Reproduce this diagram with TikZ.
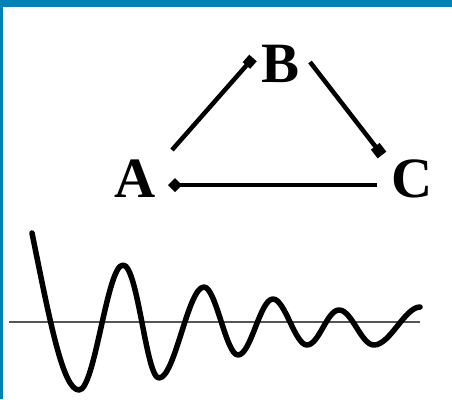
\documentclass[tikz,border=0pt]{standalone}
\usepackage{fontspec}
\setmainfont{Liberation Serif}
\usetikzlibrary{arrows.meta}
\definecolor{frameblue}{RGB}{0,131,180}
\definecolor{axisgray}{RGB}{85,85,85}
\begin{document}
\begin{tikzpicture}[x=1pt,y=-1pt,
  lbl/.style={inner sep=0pt, anchor=base, font=\fontsize{57}{60}\selectfont\bfseries},
  link/.style={line width=4.5pt},
  wave/.style={line width=5.5pt, line cap=round, line join=round},
  axisline/.style={line width=2.5pt, draw=axisgray}]
\useasboundingbox (0,0) rectangle (452,399);
\fill[white] (0,0) rectangle (452,399);
\fill[frameblue] (0,0) rectangle (452,7);
\fill[frameblue] (0,0) rectangle (3,399);
\node[lbl] (A) at (135,197) {A};
\node[lbl] (B) at (281,82) {B};
\node[lbl] (C) at (412,197) {C};
\draw[link, -{Square[length=10pt,width=10pt]}] ([shift={(37,-47)}]A.base) -- ([shift={(-28,-24)}]B.base);
\draw[link, -{Square[length=11pt,width=11pt]}] ([shift={(29,-20)}]B.base) -- ([shift={(-30,-42)}]C.base);
\draw[link, -{Diamond[length=14pt,width=14pt]}] ([shift={(-35,-12)}]C.base) -- ([shift={(33,-12)}]A.base);
\draw[axisline] (9,322) -- (420,322);
\draw[wave] (32,233) .. controls (50,322) and (63,390) .. (79,390)
  .. controls (95,390) and (107,265) .. (123,265)
  .. controls (138,265) and (146,378) .. (159,378)
  .. controls (175,378) and (188,287) .. (204,287)
  .. controls (216,287) and (226,355) .. (238,355)
  .. controls (251,355) and (260,299) .. (273,299)
  .. controls (285,299) and (295,345) .. (307,345)
  .. controls (319,345) and (327,310) .. (339,310)
  .. controls (352,310) and (361,345) .. (374,345)
  .. controls (390,345) and (405,307) .. (420,307);
\end{tikzpicture}
\end{document}
